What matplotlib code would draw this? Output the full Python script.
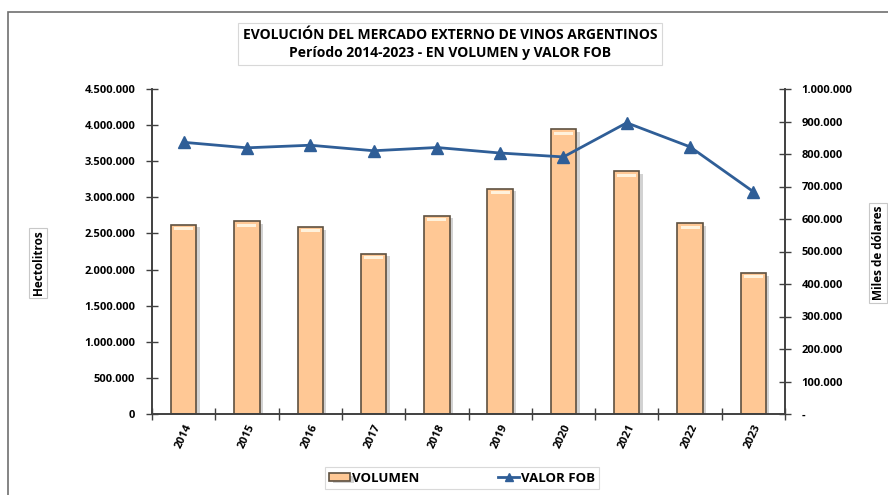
import numpy as np
import matplotlib
matplotlib.use("Agg")
import matplotlib.pyplot as plt
import matplotlib.patheffects as pe
from matplotlib.ticker import FuncFormatter, MultipleLocator
from matplotlib.patches import Rectangle

years = ["2014", "2015", "2016", "2017", "2018", "2019", "2020", "2021", "2022", "2023"]
volumen = [2621000, 2671000, 2593000, 2222000, 2746000, 3121000, 3944000, 3361000, 2643000, 1954000]
valor_fob = [836000, 819000, 827000, 810000, 820000, 803000, 791000, 896000, 822000, 684000]

plt.rcParams['font.family'] = ['Open Sans', 'DejaVu Sans']
plt.rcParams['font.weight'] = 'bold'

fig = plt.figure(figsize=(8.88, 4.95), dpi=100)
ax = fig.add_axes([152/888, 1 - 414/495, (785-152)/888, (414-89)/495])
ax2 = ax.twinx()

x = np.arange(len(years))

# bars with a soft shadow
bars = ax.bar(x, volumen, width=0.4, color="#FFC895", edgecolor="#5E5040", linewidth=1.2, zorder=2)
for b in bars:
    b.set_path_effects([pe.SimplePatchShadow(offset=(2.5, -2), alpha=0.35, shadow_rgbFace="#808080"),
                        pe.Normal()])
# little highlight at the top of each bar
hl = np.array(volumen) - 75000
ax.bar(x, [40000] * len(x), bottom=hl, width=0.3, color="#FFF2DC", linewidth=0, zorder=3)

ax.set_xlim(-0.5, len(years) - 0.5)
ax.set_ylim(0, 4500000)
ax.yaxis.set_major_locator(MultipleLocator(500000))
ax.yaxis.set_major_formatter(FuncFormatter(lambda v, p: "0" if v == 0 else f"{int(v):,}".replace(",", ".")))

line, = ax2.plot(x, valor_fob, color="#2F5E97", linewidth=2, marker="^", markersize=8, zorder=4)
ax2.set_ylim(0, 1000000)
ax2.yaxis.set_major_locator(MultipleLocator(100000))
ax2.yaxis.set_major_formatter(FuncFormatter(lambda v, p: "-" if v == 0 else f"{int(v):,}".replace(",", ".")))

ax.set_xticks(x)
ax.set_xticklabels(years, rotation=65, ha="right", rotation_mode="anchor", fontsize=8, fontweight="bold")
# ticks between categories
ax.set_xticks(np.arange(-0.5, len(years)), minor=True)
ax.tick_params(axis="x", which="major", length=0, pad=6)
ax.tick_params(axis="x", which="minor", direction="inout", length=8, width=1, color="#404040")
ax.tick_params(axis="y", direction="inout", length=8, width=1, labelsize=8, pad=8, color="#404040")
ax2.tick_params(axis="y", direction="inout", length=8, width=1, labelsize=8, pad=8, color="#404040")
for lab in ax.get_yticklabels() + ax2.get_yticklabels():
    lab.set_fontweight("bold")

for a in (ax, ax2):
    a.spines["top"].set_visible(False)
    for s in ("left", "right", "bottom"):
        a.spines[s].set_color("#404040")
        a.spines[s].set_linewidth(1.2)

ax.set_zorder(ax2.get_zorder() - 1)
ax2.patch.set_visible(False)

# axis titles in small boxes
box = dict(boxstyle="square,pad=0.25", facecolor="white", edgecolor="#C8C8C8", linewidth=0.8)
fig.text(38/888, 1 - 263/495, "Hectolitros", rotation=90, ha="center", va="center",
         fontsize=8.5, fontweight="bold", bbox=box)
fig.text(878/888, 1 - 253/495, "Miles de dólares", rotation=90, ha="center", va="center",
         fontsize=8.5, fontweight="bold", bbox=box)

# title box
fig.text(450/888, 1 - 44/495, "EVOLUCIÓN DEL MERCADO EXTERNO DE VINOS ARGENTINOS\nPeríodo 2014-2023 - EN VOLUMEN y VALOR FOB",
         ha="center", va="center", fontsize=10, fontweight="bold", linespacing=1.3,
         bbox=dict(boxstyle="square,pad=0.35", facecolor="white", edgecolor="#D8D8D8", linewidth=0.8))

# outer frame (left and top edges visible)
fig.patches.append(Rectangle((8/888, -0.2), 2, 1 - 12/495 + 0.2, transform=fig.transFigure,
                             fill=False, edgecolor="#707070", linewidth=1.2))

leg = fig.legend([bars, line], ["VOLUMEN", "VALOR FOB"], loc="center", bbox_to_anchor=(462/888, 1 - 478/495),
                 ncol=2, frameon=True, fancybox=False, edgecolor="#D0D0D0", fontsize=9.5,
                 handlelength=1.6, handleheight=0.5, handletextpad=0.1, columnspacing=6,
                 borderpad=0.35, borderaxespad=0, markerscale=0.7)
leg.get_frame().set_linewidth(0.8)
for t in leg.get_texts():
    t.set_fontweight("bold")

fig.savefig("out.png", dpi=100)
